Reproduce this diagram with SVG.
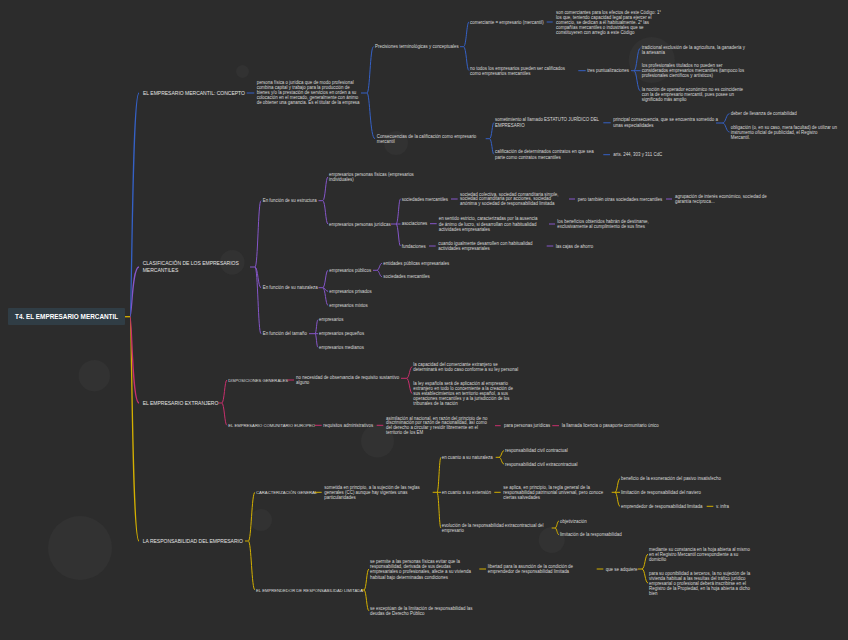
<svg xmlns="http://www.w3.org/2000/svg" width="848" height="640" viewBox="0 0 848 640">
<style>
.t{font-family:"Liberation Sans",Arial,sans-serif;font-size:4.45px;fill:#d9d9d9}
.c2{font-family:"Liberation Sans",Arial,sans-serif;font-size:4.2px;fill:#dedede}
.l1{font-family:"Liberation Sans",Arial,sans-serif;font-size:5px;fill:#e4e4e4}
.root{font-family:"Liberation Sans",Arial,sans-serif;font-size:6.4px;font-weight:bold;fill:#ffffff}
.bg{fill:#323232}
#connectors path{fill:none;stroke-width:1}
.b{stroke:#3561c6}.p{stroke:#8556c9}.k{stroke:#c82f6d}.y{stroke:#d4b000}
#connectors .tr{stroke-width:1.3}
</style>
<rect width="848" height="640" fill="#2c2c2c"/>
<g id="decor">
<circle class="bg" cx="242.5" cy="71.5" r="6.5"/>
<circle class="bg" cx="396" cy="143" r="12"/>
<circle class="bg" cx="651.7" cy="60" r="23"/>
<circle class="bg" cx="232.3" cy="262.3" r="12.3"/>
<circle class="bg" cx="94.3" cy="375.7" r="15.7"/>
<circle class="bg" cx="377.5" cy="441" r="16.5"/>
<circle class="bg" cx="261" cy="520" r="11"/>
<circle class="bg" cx="551.7" cy="540" r="13"/>
<circle class="bg" cx="80" cy="548" r="32"/>
</g>
<g id="connectors">
<path class="y tr" d="M125,316.7 H130"/>
<path class="y tr" d="M130,316.7 C132,316.7 132,541 139,541"/>
<path class="k tr" d="M130,316.7 C132,316.7 132,403 139,403"/>
<path class="p tr" d="M130,316.7 C132,316.7 132,267 139,267"/>
<path class="b tr" d="M130,316.7 C132,316.7 132,93 139,93"/>
<path class="b" d="M246.7,93 H254.3"/>
<path class="b" d="M361,93 H367"/>
<path class="b" d="M367,93 C370,93 370,46.7 373.5,46.7"/>
<path class="b" d="M367,93 C370,93 370,138.7 375,138.7"/>
<path class="b" d="M460,46.7 H463.5"/>
<path class="b" d="M463.5,46.7 C466.5,46.7 466.5,22 469,22"/>
<path class="b" d="M463.5,46.7 C466.5,46.7 466.5,70.5 469,70.5"/>
<path class="b" d="M546.7,22 H552.7"/>
<path class="b" d="M578.3,70.7 H585.7"/>
<path class="b" d="M631,70.7 H634"/>
<path class="b" d="M634,70.7 C637,70.7 637,48 640.5,48"/>
<path class="b" d="M634,70.7 H640.5"/>
<path class="b" d="M634,70.7 C637,70.7 637,91 640.5,91"/>
<path class="b" d="M485.7,138.7 H489.5"/>
<path class="b" d="M489.5,138.7 C492,138.7 492,122.5 494,122.5"/>
<path class="b" d="M489.5,138.7 C492,138.7 492,154.3 494,154.3"/>
<path class="b" d="M603.3,122.8 H610.7"/>
<path class="b" d="M603.3,154.7 H610"/>
<path class="b" d="M716,123 H722.5"/>
<path class="b" d="M722.5,123 C726,123 726,113.7 729.5,113.7"/>
<path class="b" d="M722.5,123 C726,123 726,132 729.5,132"/>
<path class="p" d="M250,267 H255"/>
<path class="p" d="M255,267 C258,267 258,200.7 261,200.7"/>
<path class="p" d="M255,267 C258,267 258,287.7 261,287.7"/>
<path class="p" d="M255,267 C258,267 258,333.7 261,333.7"/>
<path class="p" d="M318.5,200.7 H322.7"/>
<path class="p" d="M322.7,200.7 C325.5,200.7 325.5,177 328,177"/>
<path class="p" d="M322.7,200.7 C325.5,200.7 325.5,224 328,224"/>
<path class="p" d="M391,224 H396"/>
<path class="p" d="M396,224 C398.5,224 398.5,199 400.5,199"/>
<path class="p" d="M396,224 H400.5"/>
<path class="p" d="M396,224 C398.5,224 398.5,246 400.5,246"/>
<path class="p" d="M451,199 H457.7"/>
<path class="p" d="M569,199 H575"/>
<path class="p" d="M666,199 H672"/>
<path class="p" d="M430,223.7 H436.7"/>
<path class="p" d="M549,224 H555"/>
<path class="p" d="M429,246 H435.7"/>
<path class="p" d="M546.7,246 H553.3"/>
<path class="p" d="M318.5,287.7 H322.7"/>
<path class="p" d="M322.7,287.7 C325.5,287.7 325.5,270.3 328,270.3"/>
<path class="p" d="M322.7,287.7 C325.5,287.7 325.5,291.3 328,291.3"/>
<path class="p" d="M322.7,287.7 C325.5,287.7 325.5,305.3 328,305.3"/>
<path class="p" d="M373,270.3 H376.7"/>
<path class="p" d="M376.7,270.3 C379.5,270.3 379.5,263.3 382,263.3"/>
<path class="p" d="M376.7,270.3 C379.5,270.3 379.5,276.7 382,276.7"/>
<path class="p" d="M309,333.7 H315"/>
<path class="p" d="M315,333.7 C316.5,333.7 316.5,319.7 318,319.7"/>
<path class="p" d="M315,333.7 H318"/>
<path class="p" d="M315,333.7 C316.5,333.7 316.5,347.3 318,347.3"/>
<path class="k" d="M218.3,403 H221.7"/>
<path class="k" d="M221.7,403 C224.5,403 224.5,380 227,380"/>
<path class="k" d="M221.7,403 C224.5,403 224.5,425.3 227,425.3"/>
<path class="k" d="M287.3,380 H294"/>
<path class="k" d="M401,378.3 H406.5"/>
<path class="k" d="M406.5,378.3 C409.5,378.3 409.5,366.8 412.3,366.8"/>
<path class="k" d="M406.5,378.3 C409.5,378.3 409.5,393.5 412.3,393.5"/>
<path class="k" d="M315,425.3 H321.7"/>
<path class="k" d="M376.7,425.3 H383.3"/>
<path class="k" d="M495,425.7 H500.7"/>
<path class="k" d="M552.3,425.7 H559"/>
<path class="y" d="M245,541 H248.3"/>
<path class="y" d="M248.3,541 C251.5,541 251.5,492.3 255,492.3"/>
<path class="y" d="M248.3,541 C251.5,541 251.5,590 255,590"/>
<path class="y" d="M314.3,492.3 H321.7"/>
<path class="y" d="M432.7,492.3 H437"/>
<path class="y" d="M437,492.3 C439,492.3 439,457.3 441,457.3"/>
<path class="y" d="M437,492.3 H441"/>
<path class="y" d="M437,492.3 C439,492.3 439,528 441,528"/>
<path class="y" d="M495.7,457.3 H499"/>
<path class="y" d="M499,457.3 C501.5,457.3 501.5,450.7 504,450.7"/>
<path class="y" d="M499,457.3 C501.5,457.3 501.5,464 504,464"/>
<path class="y" d="M494.3,492.3 H500.7"/>
<path class="y" d="M611.7,492.3 H615"/>
<path class="y" d="M615,492.3 C617.5,492.3 617.5,478.7 620,478.7"/>
<path class="y" d="M615,492.3 H620"/>
<path class="y" d="M615,492.3 C617.5,492.3 617.5,506.3 620,506.3"/>
<path class="y" d="M706.7,506.3 H713.3"/>
<path class="y" d="M551.7,528 H555"/>
<path class="y" d="M555,528 C557,528 557,521 559,521"/>
<path class="y" d="M555,528 C557,528 557,534.7 559,534.7"/>
<path class="y" d="M361,590 H364"/>
<path class="y" d="M364,590 C366.5,590 366.5,569 369,569"/>
<path class="y" d="M364,590 C366.5,590 366.5,610.8 369,610.8"/>
<path class="y" d="M479.3,569 H486"/>
<path class="y" d="M596.7,569 H603.3"/>
<path class="y" d="M638,569 H642"/>
<path class="y" d="M642,569 C645,569 645,554.3 648,554.3"/>
<path class="y" d="M642,569 C645,569 645,583 648,583"/>
</g>
<g id="root"><rect x="8" y="308" width="117" height="17" rx="1" fill="#303d45"/><text class="root" x="15" y="319">T4. EL EMPRESARIO MERCANTIL</text></g>
<g id="n1"><text class="l1" x="143" y="94.75">EL EMPRESARIO MERCANTIL: CONCEPTO</text></g>
<g id="n1a"><text class="t" x="256.7" y="82.3"><tspan x="256.7" dy="1.55">persona física o jurídica que de modo profesional</tspan><tspan x="256.7" dy="5.15">combina capital y trabajo para la producción de</tspan><tspan x="256.7" dy="5.15">bienes y/o la prestación de servicios en orden a su</tspan><tspan x="256.7" dy="5.15">colocación en el mercado, generalmente con ánimo</tspan><tspan x="256.7" dy="5.15">de obtener una ganancia. Es el titular de la empresa</tspan></text></g>
<g id="n1b"><text class="t" x="375" y="48.25">Precisiones terminológicas y conceptuales</text></g>
<g id="n1b1"><text class="t" x="470" y="23.55">comerciante = empresario (mercantil)</text></g>
<g id="n1b1a"><text class="t" x="556" y="12"><tspan x="556" dy="1.55">son comerciantes para los efectos de este Código: 1°</tspan><tspan x="556" dy="5.1">los que, teniendo capacidad legal para ejercer el</tspan><tspan x="556" dy="5.1">comercio, se dedican a él habitualmente. 2° las</tspan><tspan x="556" dy="5.1">compañías mercantiles o industriales que se</tspan><tspan x="556" dy="5.1">constituyeren con arreglo a este Código</tspan></text></g>
<g id="n1b2"><text class="t" x="470" y="68"><tspan x="470" dy="1.55">no todos los empresarios pueden ser calificados</tspan><tspan x="470" dy="5">como empresarios mercantiles</tspan></text></g>
<g id="n1b2a"><text class="t" x="587.3" y="72.25">tres puntualizaciones</text></g>
<g id="n1b2a1"><text class="t" x="641.7" y="47.3"><tspan x="641.7" dy="1.55">tradicional exclusión de la agricultura, la ganadería y</tspan><tspan x="641.7" dy="5">la artesanía</tspan></text></g>
<g id="n1b2a2"><text class="t" x="641.7" y="65.3"><tspan x="641.7" dy="1.55">los profesionales titulados no pueden ser</tspan><tspan x="641.7" dy="5.1">considerados empresarios mercantiles (tampoco los</tspan><tspan x="641.7" dy="5.1">profesionales científicos y artísticos)</tspan></text></g>
<g id="n1b2a3"><text class="t" x="641.7" y="89.3"><tspan x="641.7" dy="1.55">la noción de operador económico no es coincidente</tspan><tspan x="641.7" dy="5.1">con la de empresario mercantil, pues posee un</tspan><tspan x="641.7" dy="5.1">significado más amplio</tspan></text></g>
<g id="n1c"><text class="t" x="376.7" y="136.3"><tspan x="376.7" dy="1.55">Consecuencias de la calificación como empresario</tspan><tspan x="376.7" dy="5">mercantil</tspan></text></g>
<g id="n1c1"><text class="t" x="495" y="119.7"><tspan x="495" dy="1.55">sometimiento al llamado ESTATUTO JURÍDICO DEL</tspan><tspan x="495" dy="5.5">EMPRESARIO</tspan></text></g>
<g id="n1c1a"><text class="t" x="613.3" y="119.7"><tspan x="613.3" dy="1.55">principal consecuencia, que se encuentra sometido a</tspan><tspan x="613.3" dy="5.3">unas especialidades</tspan></text></g>
<g id="n1c1a1"><text class="t" x="730.7" y="115.25">deber de llevanza de contabilidad</text></g>
<g id="n1c1a2"><text class="t" x="730.7" y="127"><tspan x="730.7" dy="1.55">obligación (o, en su caso, mera facultad) de utilizar un</tspan><tspan x="730.7" dy="5.15">instrumento oficial  de publicidad, el Registro</tspan><tspan x="730.7" dy="5.15">Mercantil.</tspan></text></g>
<g id="n1c2"><text class="t" x="495" y="151.7"><tspan x="495" dy="1.55">calificación de determinados contratos en que sea</tspan><tspan x="495" dy="5.3">parte como contratos mercantiles</tspan></text></g>
<g id="n1c2a"><text class="t" x="613.3" y="156.25">arts. 244, 303 y 311 CdC</text></g>
<g id="n2"><text class="l1" x="142.7" y="263.7"><tspan x="142.7" dy="1.75">CLASIFICACIÓN DE LOS EMPRESARIOS</tspan><tspan x="142.7" dy="6.6">MERCANTILES</tspan></text></g>
<g id="n2a"><text class="t" x="262.7" y="202.25">En función de su estructura</text></g>
<g id="n2a1"><text class="t" x="329" y="174.7"><tspan x="329" dy="1.55">empresarios personas físicas (empresarios</tspan><tspan x="329" dy="4.8">individuales)</tspan></text></g>
<g id="n2a2"><text class="t" x="329" y="225.55">empresarios personas jurídicas</text></g>
<g id="n2a2a"><text class="t" x="401.7" y="200.55">sociedades mercantiles</text></g>
<g id="n2a2a1"><text class="t" x="460" y="194"><tspan x="460" dy="1.55">sociedad colectiva, sociedad comanditaria simple,</tspan><tspan x="460" dy="4.85">sociedad comanditaria por acciones, sociedad</tspan><tspan x="460" dy="4.85">anónima y sociedad de responsabilidad limitada</tspan></text></g>
<g id="n2a2a2"><text class="t" x="577.7" y="200.55">pero también otras sociedades mercantiles</text></g>
<g id="n2a2a3"><text class="t" x="675" y="196.4"><tspan x="675" dy="1.55">agrupación de interés económico, sociedad de</tspan><tspan x="675" dy="5.4">garantía recíproca...</tspan></text></g>
<g id="n2a2b"><text class="t" x="401.7" y="225.25">asociaciones</text></g>
<g id="n2a2b1"><text class="t" x="438.7" y="218.7"><tspan x="438.7" dy="1.55">en sentido estricto, caracterizadas  por la ausencia</tspan><tspan x="438.7" dy="5.3">de ánimo de lucro, si desarrollan con habitualidad</tspan><tspan x="438.7" dy="5.3">actividades empresariales</tspan></text></g>
<g id="n2a2b2"><text class="t" x="557.3" y="221.7"><tspan x="557.3" dy="1.55">los beneficios obtenidos habrán de destinarse,</tspan><tspan x="557.3" dy="5">exclusivamente al cumplimiento de sus fines</tspan></text></g>
<g id="n2a2c"><text class="t" x="401.7" y="247.55">fundaciones</text></g>
<g id="n2a2c1"><text class="t" x="438.3" y="243.3"><tspan x="438.3" dy="1.55">cuando igualmente desarrollen con habitualidad</tspan><tspan x="438.3" dy="5.3">actividades empresariales</tspan></text></g>
<g id="n2a2c2"><text class="t" x="555.7" y="247.55">las cajas de ahorro</text></g>
<g id="n2b"><text class="t" x="262.7" y="289.25">En función de su naturaleza</text></g>
<g id="n2b1"><text class="t" x="329.3" y="271.85">empresarios públicos</text></g>
<g id="n2b1a"><text class="t" x="383.3" y="264.85">entidades públicas empresariales</text></g>
<g id="n2b1b"><text class="t" x="383.3" y="278.25">sociedades  mercantiles</text></g>
<g id="n2b2"><text class="t" x="329.3" y="292.85">empresarios privados</text></g>
<g id="n2b3"><text class="t" x="329.3" y="306.85">empresarios mixtos</text></g>
<g id="n2c"><text class="t" x="262.7" y="335.25">En función del tamaño</text></g>
<g id="n2c1"><text class="t" x="319" y="321.25">empresarios</text></g>
<g id="n2c2"><text class="t" x="319" y="335.25">empresarios pequeños</text></g>
<g id="n2c3"><text class="t" x="319" y="348.85">empresarios medianos</text></g>
<g id="n3"><text class="l1" x="142.7" y="404.75">EL EMPRESARIO EXTRANJERO</text></g>
<g id="n3a"><text class="c2" x="228.3" y="381.5">DISPOSICIONES GENERALES</text></g>
<g id="n3a1"><text class="t" x="296" y="377.3"><tspan x="296" dy="1.55">no necesidad de observancia de requisito sustantivo</tspan><tspan x="296" dy="5">alguno</tspan></text></g>
<g id="n3a1a"><text class="t" x="413.3" y="364.3"><tspan x="413.3" dy="1.55">la capacidad del comerciante extranjero se</tspan><tspan x="413.3" dy="5">determinará en todo caso conforme a su ley personal</tspan></text></g>
<g id="n3a1b"><text class="t" x="413.3" y="383.3"><tspan x="413.3" dy="1.55">la ley española será de aplicación al empresario</tspan><tspan x="413.3" dy="5.1">extranjero en todo lo concerniente a la creación de</tspan><tspan x="413.3" dy="5.1">sus establecimientos en territorio español, a sus</tspan><tspan x="413.3" dy="5.1">operaciones mercantiles y a la jurisdicción de los</tspan><tspan x="413.3" dy="5.1">tribunales de la nación</tspan></text></g>
<g id="n3b"><text class="c2" x="228.3" y="426.8">EL EMPRESARIO COMUNITARIO EUROPEO</text></g>
<g id="n3b1"><text class="t" x="323.3" y="426.85">requisitos administrativos</text></g>
<g id="n3b1a"><text class="t" x="386" y="418"><tspan x="386" dy="1.55">asimilación al nacional, en razón del principio de  no</tspan><tspan x="386" dy="4.9">discriminación por razón de nacionalidad, así como</tspan><tspan x="386" dy="4.9">del derecho a circular y residir libremente en el</tspan><tspan x="386" dy="4.9">territorio de los EM</tspan></text></g>
<g id="n3b1b"><text class="t" x="504" y="427.25">para personas jurídicas</text></g>
<g id="n3b1c"><text class="t" x="561.7" y="427.25">la llamada licencia o pasaporte comunitario único</text></g>
<g id="n4"><text class="l1" x="142.7" y="542.75">LA RESPONSABILIDAD DEL EMPRESARIO</text></g>
<g id="n4a"><text class="c2" x="256" y="493.8">CARACTERIZACIÓN GENERAL</text></g>
<g id="n4a1"><text class="t" x="324.3" y="487.3"><tspan x="324.3" dy="1.55">sometida en principio, a la sujeción de las reglas</tspan><tspan x="324.3" dy="5">generales (CC) aunque hay vigentes unas</tspan><tspan x="324.3" dy="5">particularidades</tspan></text></g>
<g id="n4a1a"><text class="t" x="441.7" y="458.85">en cuanto a su naturaleza</text></g>
<g id="n4a1a1"><text class="t" x="505" y="452.25">responsabilidad civil contractual</text></g>
<g id="n4a1a2"><text class="t" x="505" y="465.55">responsabilidad civil extracontractual</text></g>
<g id="n4a1b"><text class="t" x="441.7" y="493.85">en cuanto a su extensión</text></g>
<g id="n4a1b1"><text class="t" x="503.3" y="487"><tspan x="503.3" dy="1.55">se aplica, en principio, la regla general de la</tspan><tspan x="503.3" dy="5.15">responsabilidad patrimonial universal, pero conoce</tspan><tspan x="503.3" dy="5.15">ciertas salvedades</tspan></text></g>
<g id="n4a1b1a"><text class="t" x="621" y="480.25">beneficio de la exoneración del pasivo insatisfecho</text></g>
<g id="n4a1b1b"><text class="t" x="621" y="493.85">limitación de responsabilidad del naviero</text></g>
<g id="n4a1b1c"><text class="t" x="621" y="507.85">emprendedor de responsabilidad limitada</text></g>
<g id="n4a1b1d"><text class="t" x="716" y="507.85">v. infra</text></g>
<g id="n4a1c"><text class="t" x="441.7" y="525.7"><tspan x="441.7" dy="1.55">evolución de la responsabilidad extracontractual del</tspan><tspan x="441.7" dy="5">empresario</tspan></text></g>
<g id="n4a1c1"><text class="t" x="560" y="522.55">objetivización</text></g>
<g id="n4a1c2"><text class="t" x="560" y="536.25">limitación de la responsabilidad</text></g>
<g id="n4b"><text class="c2" x="256" y="591.5">EL EMPRENDEDOR DE RESPONSABILIDAD LIMITADA</text></g>
<g id="n4b1"><text class="t" x="370" y="561"><tspan x="370" dy="1.55">se permite a las personas físicas evitar que la</tspan><tspan x="370" dy="5.33">responsabilidad, derivada de sus deudas</tspan><tspan x="370" dy="5.33">empresariales o profesionales, afecte a su vivienda</tspan><tspan x="370" dy="5.33">habitual bajo determinadas condiciones</tspan></text></g>
<g id="n4b1a"><text class="t" x="487.7" y="566.3"><tspan x="487.7" dy="1.55">libertad para la asunción de la condición de</tspan><tspan x="487.7" dy="5.4">emprendedor de responsabilidad limitada</tspan></text></g>
<g id="n4b1b"><text class="t" x="605.7" y="570.55">que se adquiere</text></g>
<g id="n4b1b1"><text class="t" x="649" y="549.3"><tspan x="649" dy="1.55">mediante su constancia en la hoja abierta al mismo</tspan><tspan x="649" dy="5">en el Registro Mercantil correspondiente a su</tspan><tspan x="649" dy="5">domicilio</tspan></text></g>
<g id="n4b1b2"><text class="t" x="649" y="573"><tspan x="649" dy="1.55">para su oponibilidad a terceros, la no sujeción de la</tspan><tspan x="649" dy="5.1">vivienda habitual a las resultas del tráfico jurídico</tspan><tspan x="649" dy="5.1">empresarial o profesional deberá inscribirse en el</tspan><tspan x="649" dy="5.1">Registro de la Propiedad, en la hoja abierta a dicho</tspan><tspan x="649" dy="5.1">bien</tspan></text></g>
<g id="n4b2"><text class="t" x="370" y="608.3"><tspan x="370" dy="1.55">se exceptúan de la limitación de responsabilidad las</tspan><tspan x="370" dy="5">deudas de Derecho Público</tspan></text></g>
</svg>
